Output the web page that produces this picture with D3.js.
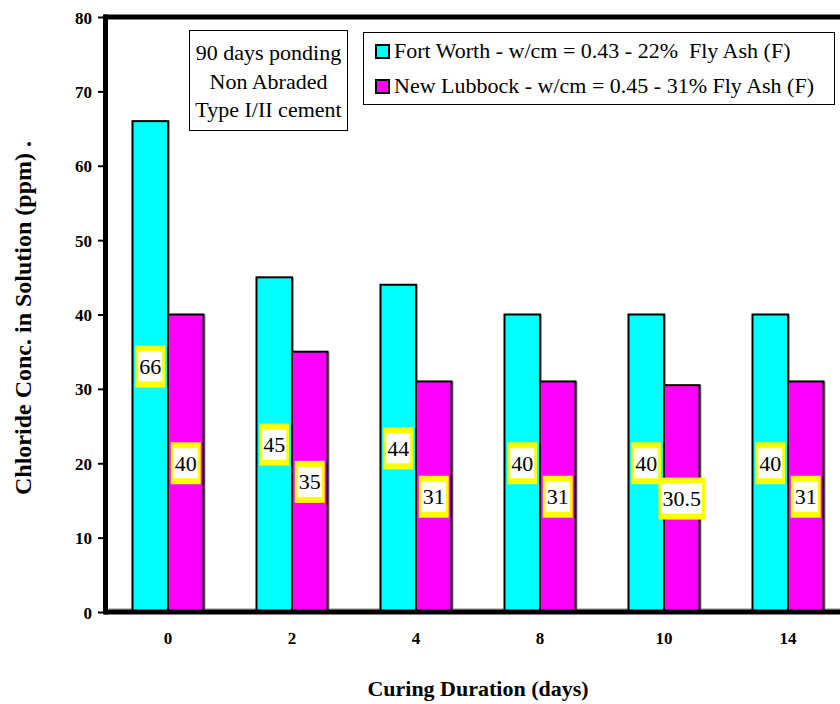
<!DOCTYPE html>
<html><head><meta charset="utf-8">
<script src="https://cdn.jsdelivr.net/npm/d3@7"></script>
<style>html,body{margin:0;padding:0;background:#fff;overflow:hidden}svg{display:block}text{white-space:pre}</style>
</head><body>
<svg id="chart" width="840" height="704"></svg>
<script>
const categories = ["0", "2", "4", "8", "10", "14"];
const seriesNames = ["Fort Worth - w/cm = 0.43 - 22%  Fly Ash (F)", "New Lubbock - w/cm = 0.45 - 31% Fly Ash (F)"];
const fortWorth = [66, 45, 44, 40, 40, 40];
const newLubbock = [40, 35, 31, 31, 30.5, 31];
const yTicks = [0, 10, 20, 30, 40, 50, 60, 70, 80];
const colors = ["#00FFFF", "#FF00FF"];
const noteLines = ["90 days ponding", "Non Abraded", "Type I/II cement"];

(function () {
const svg = d3.select("#chart");
const FONT = "'Liberation Serif','Times New Roman',serif";

function stext(g, x, yy, str, opts) {
  opts = opts || {};
  return g.append("text")
    .attr("transform", `translate(${x},${yy})${opts.rotate ? " rotate(" + opts.rotate + ")" : ""}`)
    .attr("font-family", FONT)
    .attr("font-size", opts.size || 22)
    .attr("font-weight", opts.bold ? "bold" : "normal")
    .attr("text-anchor", opts.anchor || "start")
    .attr("fill", "#000")
    .attr("xml:space", "preserve")
    .text(str);
}

const pLeft = 106, pRight = 850, pTop = 17, pBottom = 612;
const x0 = d3.scaleBand().domain(categories).range([pLeft, pRight]);
const barW = 35.5;
const x1 = d3.scaleBand().domain([0, 1]).range([x0.bandwidth() / 2 - barW, x0.bandwidth() / 2 + barW]);
const y = d3.scaleLinear().domain([0, 80]).range([pBottom, pTop]);

const data = categories.map((c, i) => ({ cat: c, vals: [fortWorth[i], newLubbock[i]] }));

svg.append("line").attr("x1", pLeft).attr("x2", pRight).attr("y1", pBottom - 3).attr("y2", pBottom - 3)
  .attr("stroke", "#888").attr("stroke-width", 1);

const groups = svg.append("g").selectAll("g").data(data).join("g")
  .attr("transform", d => `translate(${x0(d.cat)},0)`);
groups.selectAll("rect.shadow").data(d => d.vals).join("rect")
  .attr("class", "shadow")
  .attr("x", (v, j) => x1(j) + 1).attr("y", v => y(v) + 1)
  .attr("width", x1.bandwidth()).attr("height", v => y(0) - y(v))
  .attr("fill", "none").attr("stroke", "#999").attr("stroke-width", 2);
groups.selectAll("rect.bar").data(d => d.vals).join("rect")
  .attr("class", "bar")
  .attr("x", (v, j) => x1(j)).attr("y", v => y(v))
  .attr("width", x1.bandwidth()).attr("height", v => y(0) - y(v))
  .attr("fill", (v, j) => colors[j]).attr("stroke", "#000").attr("stroke-width", 2);

const axG = svg.append("g");
axG.append("line").attr("x1", pLeft - 2).attr("x2", 845).attr("y1", pTop).attr("y2", pTop).attr("stroke", "#000").attr("stroke-width", 5);
axG.append("line").attr("x1", pLeft - 2).attr("x2", 845).attr("y1", pBottom).attr("y2", pBottom).attr("stroke", "#000").attr("stroke-width", 5);
axG.append("line").attr("x1", pLeft - 0.5).attr("x2", pLeft - 0.5).attr("y1", pTop - 2.5).attr("y2", pBottom + 2.5).attr("stroke", "#000").attr("stroke-width", 5);

const yAxis = d3.axisLeft(y).tickValues(yTicks).tickSize(6).tickPadding(6).tickFormat(d3.format("d"));
const yg = svg.append("g").attr("transform", `translate(${pLeft - 2},0)`).call(yAxis);
yg.select(".domain").remove();
yg.selectAll(".tick line").attr("stroke", "#000").attr("stroke-width", 2);
yg.selectAll(".tick text").remove();
yg.selectAll(".tick").each(function (d) {
  stext(d3.select(this), -12, 6, String(d), { size: 17, bold: true, anchor: "end" });
});

const xAxis = d3.axisBottom(x0).tickSize(0).tickPadding(0);
const xg = svg.append("g").attr("transform", `translate(0,${pBottom})`).call(xAxis);
xg.select(".domain").remove();
xg.selectAll(".tick text").remove();
xg.selectAll(".tick").each(function (d) {
  stext(d3.select(this), 0, 32, d, { size: 17, bold: true, anchor: "middle" });
});

groups.each(function (d) {
  const g = d3.select(this);
  d.vals.forEach((v, j) => {
    const cx = x1(j) + x1.bandwidth() / 2;
    const cy = y(v / 2);
    const lbl = String(v);
    const tw = lbl.length * 11 - (lbl.includes(".") ? 5.5 : 0);
    g.append("rect").attr("x", cx - tw / 2 - 4).attr("y", cy - 21).attr("width", tw + 8).attr("height", 42).attr("fill", "#FFFF00");
    g.append("rect").attr("x", cx - tw / 2 - 1).attr("y", cy - 15).attr("width", tw + 2).attr("height", 30).attr("fill", "#fff");
    stext(g, cx, cy + 7.5, lbl, { size: 22, anchor: "middle" });
  });
});

const nb = svg.append("g");
nb.append("rect").attr("x", 189.5).attr("y", 30.5).attr("width", 158).attr("height", 100).attr("fill", "#fff").attr("stroke", "#000").attr("stroke-width", 1);
noteLines.forEach((s, i) => stext(nb, 268.5, 60 + i * 28.5, s, { size: 22, anchor: "middle" }));

const lg = svg.append("g");
lg.append("rect").attr("x", 363.5).attr("y", 32.5).attr("width", 471).attr("height", 72).attr("fill", "#fff").attr("stroke", "#000").attr("stroke-width", 1);
seriesNames.forEach((s, i) => {
  lg.append("rect").attr("x", 376).attr("y", 45 + i * 35).attr("width", 13).attr("height", 13)
    .attr("fill", colors[i]).attr("stroke", "#000").attr("stroke-width", 2);
  stext(lg, 394, 58 + i * 35, s, { size: 22 });
});

stext(svg, 478, 696, "Curing Duration (days)", { size: 22, bold: true, anchor: "middle" });
stext(svg, 31, 318, "Chloride Conc. in Solution (ppm) .", { size: 24, bold: true, anchor: "middle", rotate: -90 });
})();
</script>
</body></html>
